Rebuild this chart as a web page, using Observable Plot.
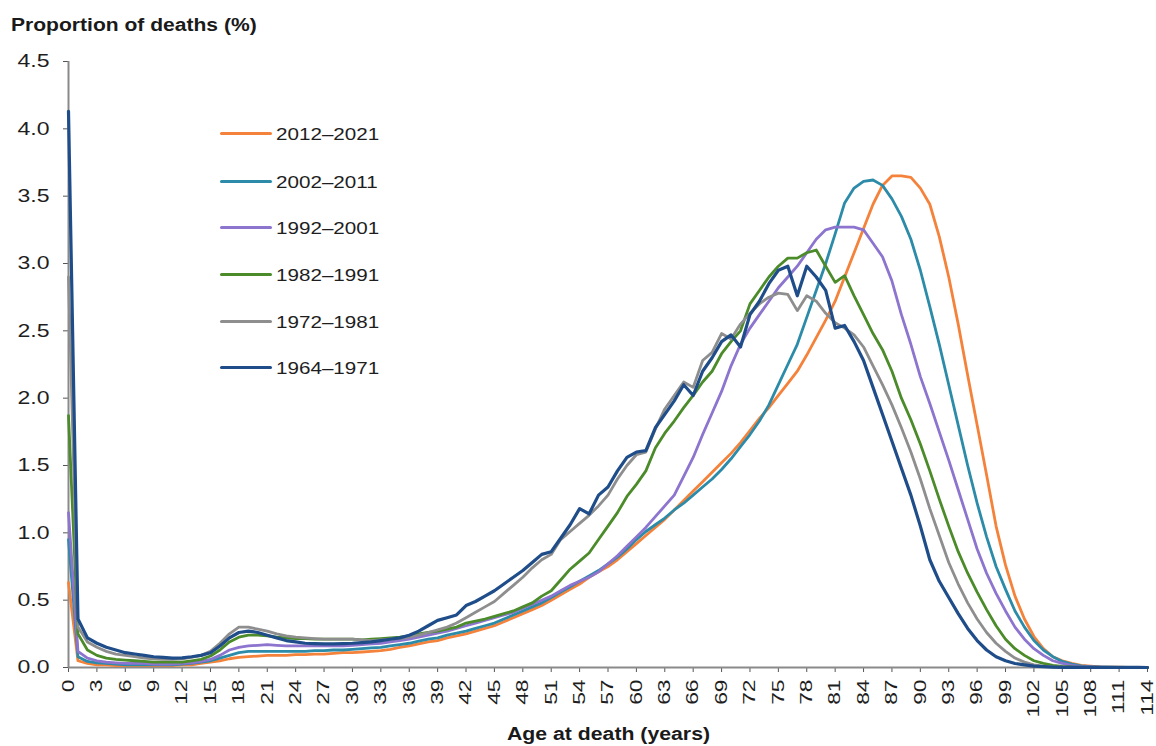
<!DOCTYPE html>
<html>
<head>
<meta charset="utf-8">
<script src="https://cdn.jsdelivr.net/npm/d3@7"></script>
<script src="https://cdn.jsdelivr.net/npm/@observablehq/plot@0.6"></script>
<style>
  body { margin: 0; background: #fff; }
  #wrap { position: relative; width: 1156px; height: 746px; font-family: "Liberation Sans", Arial, sans-serif; color: #1a1a1a; overflow: hidden; }
  #wrap svg { position: absolute; left: 0; top: 0; }
  .ttl { position: absolute; font-weight: bold; font-size: 18px; white-space: nowrap; transform-origin: left center; }
  .leg { position: absolute; left: 220px; height: 20px; }
  .leg .sw { position: absolute; left: 0; top: 8px; width: 52px; height: 3px; border-radius: 1.5px; }
  .leg .lb { position: absolute; left: 56px; top: 0; font-size: 16.5px; line-height: 20px; white-space: nowrap; transform: scaleX(1.25); transform-origin: left center; color: #1e1e1e; }
</style>
</head>
<body>
<div id="wrap"></div>
<script>
// ---------- data ----------
const ages = d3.range(0, 115);
const seriesNames = ["2012–2021", "2002–2011", "1992–2001", "1982–1991", "1972–1981", "1964–1971"];
const seriesColors = ["#F5823A", "#2B8BA8", "#8C74CF", "#4B8B2A", "#8E8E8E", "#1F4D89"];
const yTicks = [0, 0.5, 1, 1.5, 2, 2.5, 3, 3.5, 4, 4.5];
const xTicks = d3.range(0, 115, 3);

const p2012 = [0.63,0.05,0.03,0.02,0.02,0.015,0.015,0.015,0.015,0.015,0.015,0.015,0.02,0.02,0.03,0.04,0.05,0.065,0.075,0.08,
0.085,0.09,0.09,0.09,0.095,0.095,0.1,0.1,0.105,0.11,0.11,0.115,0.12,0.125,0.135,0.15,0.16,0.175,0.19,0.2,
0.22,0.235,0.25,0.27,0.29,0.31,0.34,0.37,0.4,0.43,0.46,0.5,0.54,0.58,0.62,0.67,0.71,0.75,0.8,0.86,
0.92,0.98,1.04,1.1,1.17,1.24,1.31,1.38,1.45,1.52,1.59,1.67,1.76,1.85,1.93,2.02,2.11,2.2,2.32,2.45,
2.58,2.72,2.9,3.08,3.26,3.44,3.58,3.65,3.65,3.64,3.56,3.44,3.2,2.9,2.55,2.17,1.8,1.43,1.05,0.76,
0.53,0.36,0.23,0.14,0.08,0.05,0.03,0.015,0.01,0.005,0.003,0.002,0.001,0.001,0];

const p2002 = [0.95,0.08,0.045,0.035,0.03,0.025,0.02,0.02,0.02,0.02,0.02,0.02,0.025,0.03,0.04,0.05,0.07,0.09,0.11,0.12,
0.12,0.12,0.12,0.12,0.12,0.12,0.125,0.125,0.13,0.13,0.135,0.14,0.145,0.15,0.16,0.17,0.18,0.195,0.21,0.22,
0.24,0.255,0.27,0.29,0.31,0.33,0.36,0.39,0.42,0.45,0.48,0.52,0.56,0.6,0.64,0.68,0.72,0.77,0.82,0.88,
0.95,1.01,1.06,1.11,1.17,1.22,1.28,1.34,1.4,1.47,1.55,1.64,1.73,1.83,1.95,2.1,2.25,2.4,2.6,2.8,
3.0,3.22,3.45,3.56,3.61,3.62,3.58,3.48,3.35,3.18,2.95,2.68,2.4,2.1,1.8,1.5,1.22,0.97,0.75,0.58,
0.42,0.3,0.2,0.13,0.08,0.045,0.025,0.012,0.006,0.003,0.002,0.001,0.001,0,0];

const p1992 = [1.15,0.12,0.07,0.05,0.04,0.035,0.03,0.03,0.03,0.025,0.025,0.025,0.03,0.035,0.045,0.06,0.09,0.13,0.15,0.16,
0.165,0.17,0.165,0.16,0.16,0.16,0.16,0.16,0.16,0.16,0.165,0.17,0.175,0.18,0.19,0.2,0.21,0.225,0.24,0.255,
0.27,0.29,0.31,0.33,0.35,0.37,0.39,0.41,0.44,0.47,0.5,0.53,0.57,0.61,0.64,0.67,0.71,0.77,0.83,0.9,
0.97,1.04,1.12,1.2,1.28,1.42,1.56,1.73,1.89,2.05,2.24,2.4,2.52,2.62,2.72,2.82,2.9,2.98,3.08,3.18,
3.25,3.27,3.27,3.27,3.25,3.15,3.05,2.87,2.62,2.4,2.16,1.96,1.75,1.54,1.32,1.1,0.88,0.7,0.55,0.42,
0.3,0.21,0.14,0.09,0.05,0.03,0.015,0.008,0.004,0.002,0.001,0.001,0.001,0.001,0];

const p1982 = [1.87,0.25,0.13,0.09,0.07,0.06,0.055,0.05,0.045,0.04,0.04,0.04,0.04,0.05,0.06,0.085,0.13,0.19,0.225,0.24,
0.24,0.235,0.225,0.22,0.215,0.215,0.21,0.21,0.21,0.21,0.21,0.205,0.21,0.215,0.22,0.225,0.235,0.25,0.26,0.27,
0.285,0.3,0.33,0.345,0.36,0.38,0.4,0.42,0.45,0.48,0.53,0.57,0.65,0.73,0.79,0.85,0.95,1.05,1.15,1.27,
1.36,1.46,1.63,1.74,1.83,1.93,2.02,2.12,2.2,2.33,2.42,2.5,2.7,2.8,2.9,2.98,3.04,3.04,3.08,3.1,
2.98,2.86,2.91,2.76,2.62,2.48,2.36,2.2,2.0,1.84,1.66,1.46,1.25,1.05,0.86,0.7,0.56,0.43,0.31,0.21,
0.14,0.09,0.05,0.03,0.015,0.008,0.004,0.002,0.001,0.001,0.001,0.001,0.001,0.001,0];

const p1972 = [2.9,0.3,0.19,0.15,0.12,0.1,0.09,0.08,0.07,0.065,0.06,0.06,0.065,0.075,0.09,0.12,0.18,0.25,0.3,0.3,
0.285,0.27,0.25,0.235,0.225,0.22,0.215,0.21,0.21,0.21,0.21,0.205,0.2,0.205,0.21,0.215,0.225,0.24,0.26,0.28,
0.3,0.33,0.37,0.41,0.45,0.49,0.55,0.61,0.67,0.74,0.8,0.84,0.95,1.01,1.07,1.13,1.2,1.28,1.4,1.5,
1.58,1.6,1.77,1.92,2.02,2.12,2.08,2.28,2.34,2.48,2.44,2.55,2.63,2.7,2.75,2.78,2.77,2.65,2.76,2.72,
2.63,2.56,2.52,2.47,2.38,2.24,2.1,1.95,1.78,1.6,1.4,1.18,0.98,0.78,0.62,0.48,0.36,0.26,0.18,0.12,
0.07,0.04,0.02,0.01,0.005,0.003,0.001,0.001,0.001,0.001,0.001,0.001,0.001,0.001,0];

const p1964 = [4.13,0.36,0.22,0.18,0.15,0.13,0.11,0.1,0.09,0.08,0.075,0.07,0.072,0.08,0.09,0.11,0.16,0.22,0.26,0.27,
0.26,0.24,0.22,0.2,0.19,0.18,0.177,0.175,0.175,0.178,0.18,0.185,0.19,0.2,0.21,0.22,0.24,0.27,0.31,0.35,
0.37,0.39,0.46,0.49,0.53,0.57,0.62,0.67,0.72,0.78,0.84,0.86,0.96,1.06,1.18,1.14,1.28,1.34,1.46,1.56,
1.6,1.61,1.78,1.88,1.98,2.1,2.02,2.2,2.3,2.42,2.47,2.38,2.62,2.72,2.85,2.95,2.98,2.76,2.98,2.9,
2.8,2.52,2.54,2.42,2.28,2.08,1.88,1.68,1.48,1.28,1.05,0.8,0.64,0.52,0.4,0.29,0.2,0.13,0.08,0.05,
0.03,0.02,0.01,0.006,0.003,0.001,0.001,0.001,0.001,0.001,0.001,0.001,0.001,0.001,0];

const seriesValues = [p2012, p2002, p1992, p1982, p1972, p1964];

// ---------- chart ----------
const lineMarks = seriesValues.map((vals, k) =>
  Plot.line(ages.map((a, i) => ({age: a, v: vals[i]})), {
    x: "age", y: "v",
    stroke: seriesColors[k],
    strokeWidth: k === 5 ? 3.2 : 2.8,
    strokeLinejoin: "round",
    strokeLinecap: "round"
  })
);

const chart = Plot.plot({
  width: 1156,
  height: 746,
  marginLeft: 68,
  marginRight: 9,
  marginTop: 61,
  marginBottom: 79,
  style: {fontFamily: "'Liberation Sans', Arial, sans-serif", color: "#1e1e1e", background: "#fff"},
  x: {domain: [0, 114]},
  y: {domain: [0, 4.5]},
  marks: [
    Plot.axisY({ticks: yTicks, tickFormat: d3.format(".1f"), tickSize: 5, tickPadding: 14, fontSize: 18, label: null, stroke: "#555"}),
    Plot.axisX({ticks: xTicks, tickRotate: -90, tickSize: 5, tickPadding: 7, fontSize: 16.5, label: null, stroke: "#555"}),
    Plot.ruleX([0], {stroke: "#8a8a8a", strokeWidth: 2}),
    Plot.ruleY([0], {stroke: "#8a8a8a", strokeWidth: 2}),
    ...lineMarks
  ]
});

const wrap = document.getElementById("wrap");
wrap.appendChild(chart);

// widen the tick label glyphs horizontally (reference font is wide)
function stretch(sel, s) {
  chart.querySelectorAll(sel).forEach(t => {
    const b = t.getBBox();
    const px = b.x + b.width;
    const orig = t.getAttribute("transform") || "";
    t.setAttribute("transform", `${orig} translate(${px},0) scale(${s},1) translate(${-px},0)`);
  });
}
stretch('g[aria-label="y-axis tick label"] text', 1.28);
stretch('g[aria-label="x-axis tick label"] text', 1.38);

// titles
const t1 = document.createElement("div");
t1.className = "ttl";
t1.textContent = "Proportion of deaths (%)";
t1.style.left = "11px"; t1.style.top = "15px";
t1.style.transform = "scaleX(1.17)";
wrap.appendChild(t1);

const t2 = document.createElement("div");
t2.className = "ttl";
t2.textContent = "Age at death (years)";
t2.style.left = "507px"; t2.style.top = "724px";
t2.style.transform = "scaleX(1.18)";
wrap.appendChild(t2);

// legend
const legRows = [134, 182, 228, 275, 322, 368];
seriesNames.forEach((name, k) => {
  const row = document.createElement("div");
  row.className = "leg";
  row.style.top = (legRows[k] - 10) + "px";
  const sw = document.createElement("div");
  sw.className = "sw";
  sw.style.background = seriesColors[k];
  const lb = document.createElement("div");
  lb.className = "lb";
  lb.textContent = name;
  row.appendChild(sw); row.appendChild(lb);
  wrap.appendChild(row);
});
</script>
</body>
</html>
